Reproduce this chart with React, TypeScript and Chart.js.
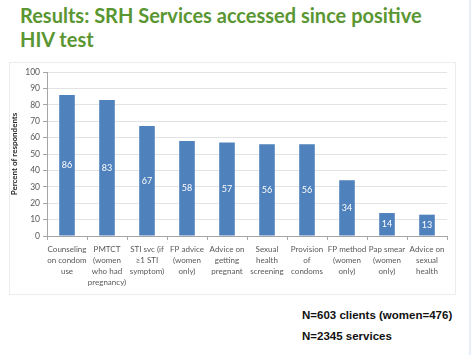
import React, { useEffect, useRef } from "react";
import { Chart, registerables } from "chart.js";

Chart.register(...registerables);

const categories: string[][] = [
  ["Counseling", "on condom", "use"],
  ["PMTCT", "(women", "who had", "pregnancy)"],
  ["STI svc (if", "≥1 STI", "symptom)"],
  ["FP advice", "(women", "only)"],
  ["Advice on", "getting", "pregnant"],
  ["Sexual", "health", "screening"],
  ["Provision", "of", "condoms"],
  ["FP method", "(women", "only)"],
  ["Pap smear", "(women", "only)"],
  ["Advice on", "sexual", "health"],
];
const values: number[] = [86, 83, 67, 58, 57, 56, 56, 34, 14, 13];
const yTicks: number[] = [0, 10, 20, 30, 40, 50, 60, 70, 80, 90, 100];

const barLabels = {
  id: "barLabels",
  afterDatasetsDraw(chart: any) {
    const ctx = chart.ctx;
    const meta = chart.getDatasetMeta(0);
    ctx.save();
    ctx.fillStyle = "#ffffff";
    ctx.font = "9px Lato";
    ctx.textAlign = "center";
    ctx.textBaseline = "middle";
    meta.data.forEach((bar: any, i: number) => {
      const y = (bar.y + bar.base) / 2;
      ctx.fillText(String(values[i]), bar.x, y);
    });
    ctx.restore();
  },
};

export default function App() {
  const ref = useRef<HTMLCanvasElement>(null);
  useEffect(() => {
    if (!ref.current) return;
    const chart = new Chart(ref.current, {
      type: "bar",
      data: {
        labels: categories,
        datasets: [
          {
            data: values,
            backgroundColor: "#4f81bd",
            barPercentage: 0.39,
            categoryPercentage: 1,
          },
        ],
      },
      options: {
        animation: false,
        responsive: false,
        layout: { padding: { top: 9, right: 8, left: 0, bottom: 0 } },
        plugins: { legend: { display: false }, tooltip: { enabled: false } },
        scales: {
          x: {
            grid: { offset: true, drawOnChartArea: false, tickLength: 4, color: "#a6a6a6" },
            border: { color: "#a6a6a6" },
            ticks: {
              color: "#595959",
              font: { family: "Lato", size: 8, lineHeight: 1.38 },
              maxRotation: 0,
              autoSkip: false,
              padding: 4,
            },
            afterFit: (s: any) => {
              s.height = 58;
            },
          },
          y: {
            min: 0,
            max: 100,
            afterBuildTicks: (s: any) => {
              s.ticks = yTicks.map((v) => ({ value: v }));
            },
            grid: { color: "#e3e3e3", tickLength: 4, tickColor: "#a6a6a6" },
            border: { color: "#a6a6a6" },
            ticks: {
              color: "#595959",
              font: { family: "Lato", size: 8.5 },
              padding: 3,
            },
            title: {
              display: true,
              text: "Percent of respondents",
              color: "#262626",
              font: { family: "Lato", size: 8, weight: "bold" },
              padding: 0,
            },
            afterFit: (s: any) => {
              s.width = 37;
            },
          },
        },
      },
      plugins: [barLabels],
    });
    return () => chart.destroy();
  }, []);

  return (
    <div style={{ position: "absolute", left: 0, top: 0, width: 474, height: 355, background: "#fff", overflow: "hidden" }}>
      <div
        style={{
          position: "absolute",
          left: 20,
          top: 3,
          fontFamily: "Lato",
          fontWeight: "bold",
          fontSize: 20,
          lineHeight: "24px",
          color: "#5a9632",
        }}
      >
        Results: SRH Services accessed since positive
        <br />
        HIV test
      </div>
      <div
        style={{
          position: "absolute",
          left: 9,
          top: 62,
          width: 445,
          height: 231,
          border: "1px solid #ececec",
        }}
      >
        <canvas ref={ref} width={445} height={231} style={{ display: "block" }} />
      </div>
      <div
        style={{
          position: "absolute",
          left: 302,
          top: 305,
          fontFamily: "Liberation Sans, Arial",
          fontWeight: "bold",
          fontSize: 11.5,
          lineHeight: "21px",
          color: "#111",
        }}
      >
        N=603 clients (women=476)
        <br />
        N=2345 services
      </div>
      <div style={{ position: "absolute", left: 469, top: 0, width: 2, height: 355, background: "#e6eef7" }} />
    </div>
  );
}
